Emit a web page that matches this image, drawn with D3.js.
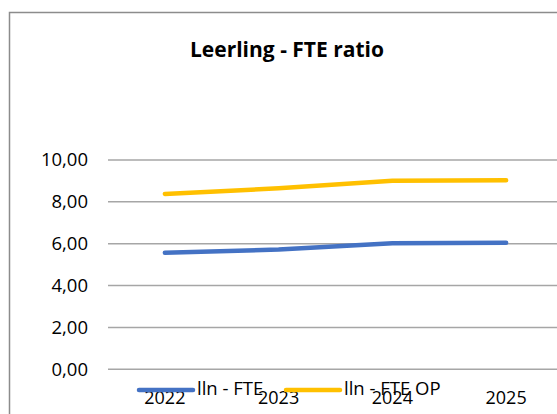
<!DOCTYPE html>
<html>
<head>
<meta charset="utf-8">
<script src="https://cdn.jsdelivr.net/npm/d3@7"></script>
<style>
  body { margin: 0; background: #fff; }
  svg { display: block; font-family: "Open Sans", sans-serif; }
</style>
</head>
<body>
<script>
// data
var years = ["2022", "2023", "2024", "2025"];
var llnFte = [5.57, 5.72, 6.02, 6.05];
var llnFteOp = [8.38, 8.65, 9.01, 9.03];
var yTicks = [0, 2, 4, 6, 8, 10];
var seriesNames = ["lln - FTE", "lln - FTE OP"];
var seriesColors = ["#4472C4", "#FFC000"];

var width = 557, height = 414;

var svg = d3.select("body").append("svg")
  .attr("width", width)
  .attr("height", height);

// chart border, runs off the right and bottom edges
svg.append("rect")
  .attr("x", 9.5).attr("y", 12.5)
  .attr("width", 600).attr("height", 450)
  .style("fill", "#fff")
  .style("stroke", "#8c8c8c")
  .style("stroke-width", 1.5);

svg.append("text")
  .attr("x", 287).attr("y", 57)
  .attr("text-anchor", "middle")
  .style("font-weight", "bold")
  .style("font-size", "21px")
  .style("fill", "#000")
  .text("Leerling - FTE ratio");

var x = d3.scaleBand().domain(years).range([108, 563]);
var y = d3.scaleLinear().domain([0, 10]).range([369.3, 160]);

var fmt = function(d) { return d3.format(".2f")(d).replace(".", ","); };

// gridlines + y labels
var grid = svg.append("g");
yTicks.forEach(function(t) {
  grid.append("line")
    .attr("x1", 108).attr("x2", 563)
    .attr("y1", y(t)).attr("y2", y(t))
    .style("stroke", "#a6a6a6")
    .style("stroke-width", 1.5);
  grid.append("text")
    .attr("x", 88).attr("y", y(t))
    .attr("dy", "0.35em")
    .attr("text-anchor", "end")
    .style("font-size", "18.5px")
    .style("fill", "#000")
    .text(fmt(t));
});

// x labels
years.forEach(function(yr) {
  svg.append("text")
    .attr("x", x(yr) + x.bandwidth() / 2)
    .attr("y", 404)
    .attr("text-anchor", "middle")
    .style("font-size", "18px")
    .style("fill", "#000")
    .text(yr);
});

var line = d3.line()
  .x(function(d, i) { return x(years[i]) + x.bandwidth() / 2; })
  .y(function(d) { return y(d); });

[llnFte, llnFteOp].forEach(function(s, k) {
  svg.append("path")
    .attr("d", line(s))
    .style("fill", "none")
    .style("stroke", seriesColors[k])
    .style("stroke-width", 4.5)
    .style("stroke-linecap", "round")
    .style("stroke-linejoin", "round");
});

// legend
var legX = [139, 286];
seriesNames.forEach(function(n, k) {
  svg.append("line")
    .attr("x1", legX[k]).attr("x2", legX[k] + 54)
    .attr("y1", 390).attr("y2", 390)
    .style("stroke", seriesColors[k])
    .style("stroke-width", 4.5)
    .style("stroke-linecap", "round");
  svg.append("text")
    .attr("x", legX[k] + 58).attr("y", 395)
    .style("font-size", "18.5px")
    .style("fill", "#000")
    .text(n);
});
</script>
</body>
</html>
